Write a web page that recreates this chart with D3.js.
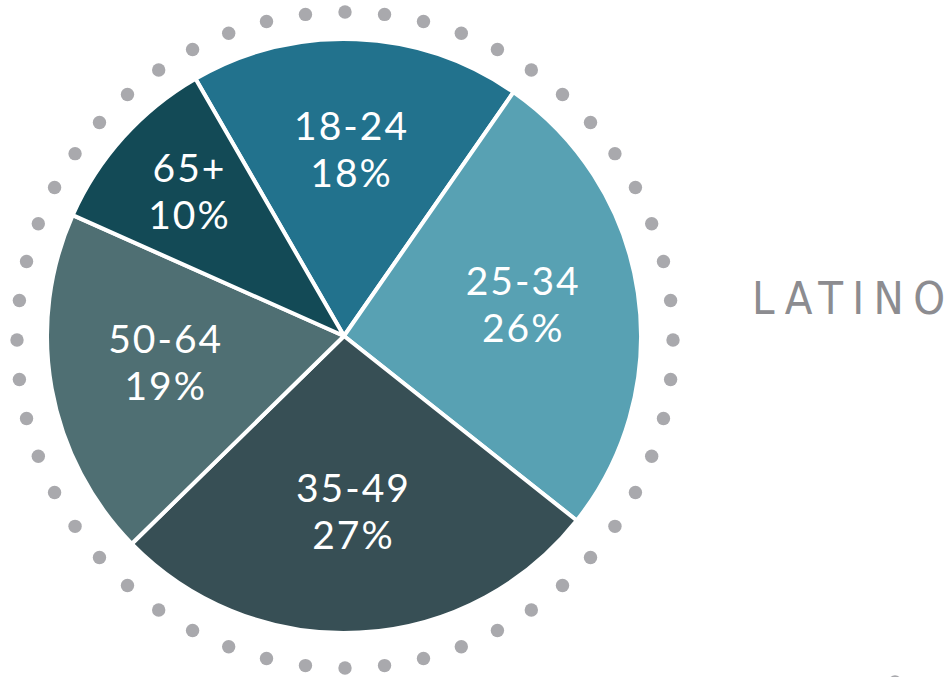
<!DOCTYPE html>
<html>
<head>
<meta charset="utf-8">
<script src="https://cdn.jsdelivr.net/npm/d3@7"></script>
<style>
  html, body { margin: 0; padding: 0; background: #fff; overflow: hidden; }
</style>
</head>
<body>
<div id="chart"></div>
<script>
// age groups, Latino
const groups = ["18-24", "25-34", "35-49", "50-64", "65+"];
const shares = [18, 26, 27, 19, 10];
const colors = ["#22728d", "#58a1b3", "#374f55", "#4f6f73", "#134a56"];
const title = "LATINO";

const width = 947,
  height = 677;

const cx = 344,
  cy = 336,
  radius = 297;

const ringR = 328,
  dotCount = 52;

const svg = d3
  .select("#chart")
  .append("svg")
  .attr("width", width)
  .attr("height", height);

// dotted ring round the pie
function dotRing(g) {
  const angle = d3
    .scaleLinear()
    .domain([0, dotCount])
    .range([0, 2 * Math.PI]);
  g.selectAll("circle")
    .data(d3.range(dotCount))
    .join("circle")
    .attr("cx", (i) => ringR * Math.sin(angle(i)))
    .attr("cy", (i) => -ringR * Math.cos(angle(i)))
    .attr("r", 6.7)
    .attr("fill", "#a9a9ad");
}

svg
  .append("g")
  .attr("transform", "translate(" + (cx + 1) + "," + (cy + 4) + ")")
  .call(dotRing);

// the next chart's ring, just peeking in at the bottom
svg
  .append("g")
  .attr("transform", "translate(895," + (682 + ringR) + ")")
  .call(dotRing);

const pie = d3
  .pie()
  .sort(null)
  .startAngle((-30 * Math.PI) / 180)
  .endAngle((330 * Math.PI) / 180)
  .value((d) => d.value);

const data = groups.map((g, i) => ({ group: g, value: shares[i], color: colors[i] }));

const arc = d3.arc().innerRadius(0).outerRadius(radius);

const g = svg.append("g").attr("transform", "translate(" + cx + "," + cy + ")");

const slices = pie(data);

g.selectAll("path")
  .data(slices)
  .join("path")
  .attr("d", arc)
  .attr("fill", (d) => d.data.color)
  .attr("stroke", "#fff")
  .attr("stroke-width", 4)
  .attr("stroke-linejoin", "round");

const labelArc = (d) => {
  const r = d.data.value < 15 ? radius * 0.7 : radius * 0.61;
  return d3.arc().innerRadius(r).outerRadius(r).centroid(d);
};

const labels = g
  .selectAll("text.lbl")
  .data(slices)
  .join("text")
  .attr("class", "lbl")
  .attr("transform", (d) => "translate(" + labelArc(d) + ")")
  .attr("text-anchor", "middle")
  .attr("fill", "#fff")
  .style("font-family", "Lato, 'Open Sans', sans-serif")
  .style("font-weight", 400)
  .style("font-size", "39px")
  .style("letter-spacing", "2px");

labels
  .append("tspan")
  .attr("x", 0)
  .attr("y", -15)
  .text((d) => d.data.group);

labels
  .append("tspan")
  .attr("x", 0)
  .attr("y", 32)
  .text((d) => d.data.value + "%");

svg
  .append("text")
  .attr("x", 752)
  .attr("y", 314)
  .attr("fill", "#8c8c90")
  .attr("textLength", 193)
  .attr("lengthAdjust", "spacing")
  .style("font-family", "'DejaVu Sans Condensed', 'Liberation Sans Narrow', sans-serif")
  .style("font-weight", 500)
  .style("font-size", "45px")
  .text(title);
</script>
</body>
</html>
